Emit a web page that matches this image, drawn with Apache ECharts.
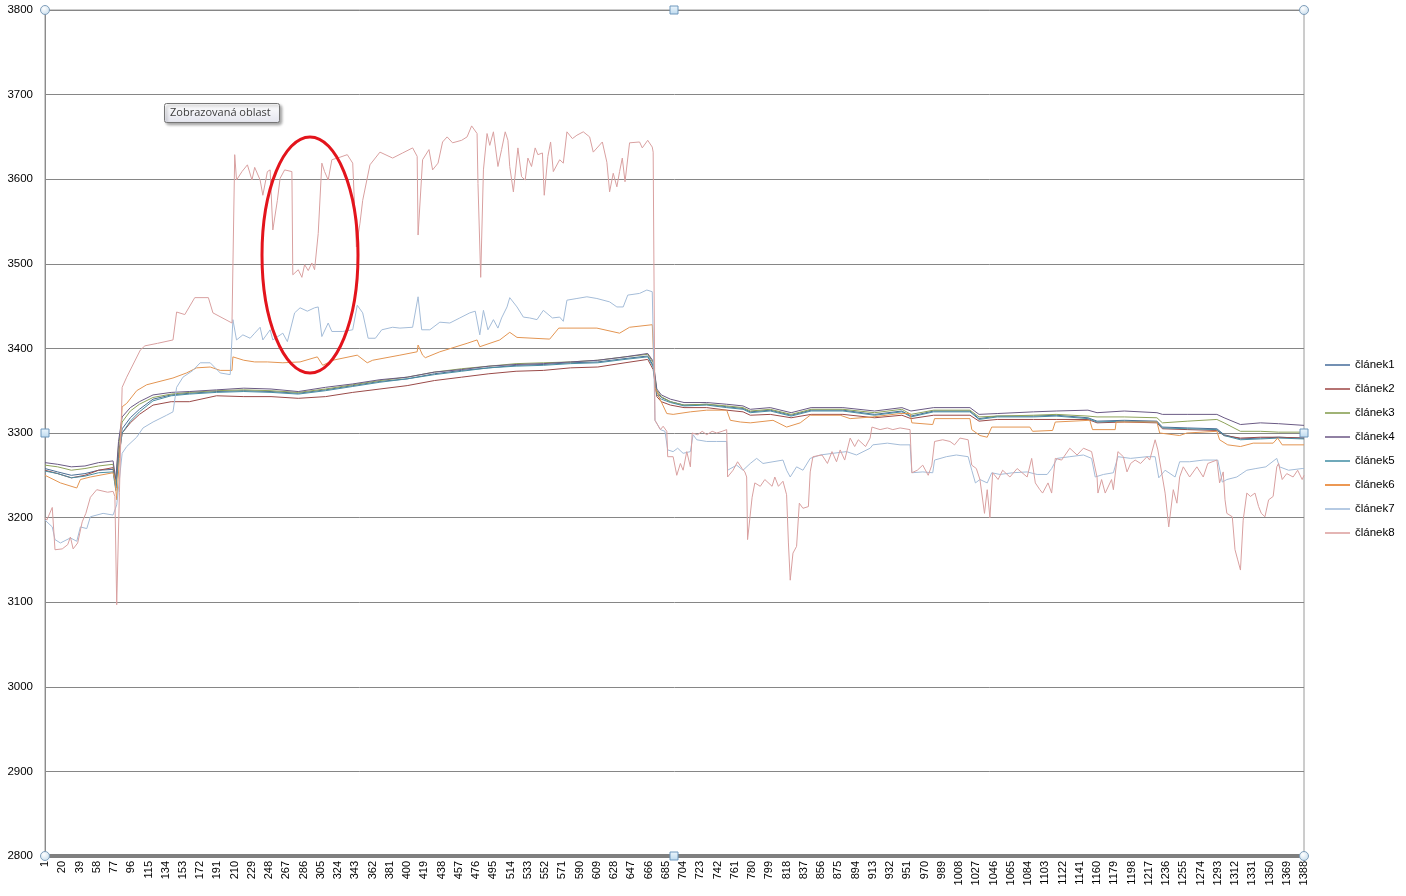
<!DOCTYPE html>
<html><head><meta charset="utf-8">
<script src="https://cdn.jsdelivr.net/npm/echarts@6/dist/echarts.min.js"></script>
<style>html,body{margin:0;padding:0;background:#fff}#c{width:1406px;height:896px}</style>
</head><body><div id="c"></div>
<script>
// sample numbers 1..1388 (category axis), tick labels every 19th
const sampleCount = 1388;
const yTicks = {min: 2800, max: 3800, step: 100};
const seriesNames = ['článek1','článek2','článek3','článek4','článek5','článek6','článek7','článek8'];

// shared sample positions for the tightly grouped cells 1-5
const clusterX = [1,15,30,45,60,76,79,82,86,95,105,120,140,160,190,220,250,280,310,340,370,400,430,460,490,520,550,580,610,640,665,671,675,680,690,705,730,752,770,778,800,823,845,880,915,945,955,980,1020,1030,1050,1090,1115,1150,1160,1190,1226,1232,1260,1292,1300,1318,1340,1360,1388];
const s1 = [3258,3254,3250,3252,3256,3257,3235,3275,3305,3318,3328,3340,3345,3347,3349,3350,3349,3347,3351,3356,3361,3364,3370,3374,3377,3380,3381,3383,3384,3388,3391,3380,3348,3342,3337,3333,3334,3331,3329,3325,3327,3321,3327,3327,3322,3326,3320,3326,3326,3317,3320,3320,3321,3318,3314,3315,3314,3307,3306,3305,3298,3293,3294,3295,3294];
const s2 = [3256,3252,3247,3250,3256,3259,3238,3270,3300,3312,3322,3333,3337,3337,3344,3343,3343,3341,3343,3348,3352,3356,3362,3366,3370,3373,3374,3377,3378,3383,3387,3375,3343,3337,3333,3330,3330,3327,3325,3321,3322,3318,3322,3322,3318,3321,3317,3321,3321,3314,3316,3316,3316,3316,3312,3313,3312,3305,3304,3303,3297,3294,3295,3295,3294];
const s3 = [3262,3260,3256,3258,3261,3263,3240,3285,3313,3326,3334,3342,3346,3348,3350,3351,3350,3348,3352,3357,3362,3366,3372,3376,3379,3382,3383,3384,3386,3390,3393,3383,3350,3343,3337,3333,3334,3332,3330,3326,3328,3322,3328,3328,3324,3328,3322,3327,3327,3319,3320,3321,3322,3320,3319,3319,3318,3312,3314,3316,3312,3302,3302,3301,3301];
const s4 = [3265,3263,3260,3261,3265,3267,3245,3290,3319,3330,3337,3345,3348,3349,3351,3353,3352,3349,3354,3358,3363,3366,3372,3375,3379,3381,3382,3384,3386,3390,3394,3385,3352,3345,3340,3336,3336,3334,3332,3328,3330,3324,3330,3330,3326,3330,3326,3330,3330,3322,3323,3325,3326,3327,3324,3326,3324,3322,3322,3322,3318,3310,3312,3311,3309];
const s5 = [3255,3252,3247,3249,3253,3254,3232,3268,3300,3314,3325,3338,3344,3346,3348,3349,3348,3346,3350,3355,3360,3364,3369,3373,3377,3379,3380,3382,3383,3387,3390,3378,3345,3340,3336,3332,3333,3330,3328,3324,3326,3320,3326,3326,3321,3325,3319,3325,3325,3316,3319,3319,3320,3317,3313,3314,3313,3306,3305,3304,3297,3292,3293,3294,3293];

// [sample number, value]
const s6 = [[1,3250],[3,3248],[18,3241],[36,3235],[40,3245],[51,3248],[76,3253],[78,3245],[80,3221],[83,3270],[86,3331],[91,3335],[102,3350],[113,3357],[142,3365],[157,3371],[168,3377],[183,3378],[194,3374],[207,3374],[208,3390],[220,3386],[232,3384],[246,3384],[263,3383],[282,3384],[301,3390],[307,3380],[318,3386],[345,3392],[356,3383],[362,3386],[392,3392],[411,3396],[412,3404],[417,3392],[420,3389],[436,3396],[466,3406],[477,3410],[480,3402],[502,3410],[513,3419],[521,3413],[557,3411],[567,3424],[576,3424],[609,3424],[634,3418],[645,3425],[670,3428],[671,3428],[673,3354],[679,3339],[686,3323],[693,3322],[712,3325],[730,3327],[752,3327],[756,3315],[767,3313],[778,3312],[803,3315],[818,3307],[833,3312],[844,3321],[877,3321],[888,3317],[913,3319],[943,3323],[954,3323],[956,3312],[979,3310],[981,3317],[1020,3317],[1022,3304],[1031,3297],[1039,3295],[1044,3307],[1086,3307],[1089,3302],[1111,3303],[1114,3313],[1152,3315],[1155,3304],[1180,3304],[1181,3313],[1226,3313],[1229,3300],[1251,3297],[1259,3300],[1292,3302],[1295,3292],[1304,3286],[1318,3284],[1332,3288],[1354,3288],[1359,3294],[1364,3286],[1388,3286]];

const s7 = [[1,3197],[3,3195],[9,3189],[12,3174],[18,3170],[29,3176],[36,3172],[40,3189],[47,3187],[51,3201],[65,3205],[76,3203],[80,3215],[86,3276],[91,3284],[102,3295],[109,3306],[120,3313],[135,3321],[142,3325],[146,3354],[153,3366],[164,3374],[172,3383],[183,3383],[194,3371],[205,3369],[208,3434],[212,3410],[219,3416],[227,3412],[232,3418],[238,3425],[241,3410],[249,3422],[252,3410],[263,3418],[268,3408],[276,3442],[282,3448],[290,3444],[298,3448],[302,3449],[306,3414],[313,3430],[317,3420],[329,3420],[340,3422],[345,3451],[351,3442],[357,3412],[365,3412],[372,3422],[384,3425],[392,3424],[406,3425],[412,3461],[416,3422],[425,3422],[436,3431],[447,3430],[458,3436],[469,3442],[475,3444],[480,3416],[484,3445],[489,3422],[495,3434],[500,3424],[504,3436],[510,3449],[513,3460],[521,3449],[528,3437],[535,3436],[543,3434],[550,3445],[560,3436],[568,3437],[572,3432],[576,3457],[587,3459],[598,3461],[609,3459],[623,3455],[631,3449],[638,3449],[643,3463],[656,3465],[664,3469],[670,3467],[671,3467],[673,3315],[679,3304],[684,3302],[687,3280],[693,3278],[698,3282],[704,3276],[712,3278],[715,3298],[719,3292],[730,3290],[741,3290],[752,3290],[753,3256],[763,3262],[770,3256],[778,3264],[785,3270],[792,3264],[803,3266],[814,3268],[818,3256],[822,3248],[829,3260],[836,3256],[844,3270],[855,3274],[869,3276],[884,3278],[895,3274],[910,3282],[913,3286],[929,3288],[943,3286],[954,3286],[956,3253],[968,3254],[979,3253],[981,3268],[994,3272],[1005,3274],[1018,3272],[1022,3256],[1026,3241],[1031,3245],[1039,3241],[1044,3253],[1053,3251],[1067,3253],[1083,3254],[1094,3251],[1105,3251],[1110,3258],[1116,3270],[1130,3272],[1145,3274],[1154,3270],[1158,3248],[1167,3251],[1178,3253],[1183,3272],[1197,3270],[1215,3272],[1224,3272],[1228,3247],[1235,3256],[1246,3248],[1251,3266],[1262,3266],[1277,3268],[1293,3268],[1298,3242],[1303,3245],[1314,3248],[1325,3256],[1335,3258],[1346,3260],[1358,3270],[1361,3260],[1371,3256],[1386,3258],[1388,3258]];

const s8 = [[1,3200],[3,3197],[9,3212],[12,3162],[20,3163],[26,3168],[29,3177],[32,3163],[37,3170],[42,3195],[46,3205],[51,3224],[58,3233],[70,3230],[76,3231],[78,3225],[80,3097],[83,3230],[86,3354],[91,3366],[106,3398],[111,3403],[125,3406],[142,3410],[146,3443],[155,3440],[166,3460],[181,3460],[186,3442],[207,3430],[210,3629],[212,3599],[218,3609],[224,3617],[229,3599],[232,3614],[238,3599],[241,3581],[246,3609],[249,3611],[252,3540],[257,3575],[260,3601],[265,3611],[273,3609],[274,3487],[280,3493],[284,3484],[287,3499],[291,3492],[295,3501],[298,3493],[302,3536],[306,3619],[309,3609],[313,3599],[317,3623],[326,3626],[334,3629],[340,3619],[344,3520],[348,3548],[351,3575],[359,3617],[370,3632],[384,3625],[395,3631],[406,3637],[411,3627],[412,3534],[417,3623],[424,3635],[428,3611],[434,3619],[439,3644],[444,3650],[450,3643],[460,3646],[466,3650],[471,3663],[477,3654],[478,3595],[481,3484],[484,3611],[488,3654],[491,3640],[495,3656],[500,3615],[504,3635],[508,3656],[511,3646],[513,3615],[517,3585],[522,3637],[526,3603],[530,3599],[533,3625],[537,3615],[541,3637],[544,3629],[549,3631],[551,3581],[555,3627],[558,3644],[561,3609],[568,3623],[572,3619],[576,3656],[582,3648],[587,3652],[594,3656],[601,3650],[605,3632],[615,3644],[620,3620],[623,3585],[627,3607],[631,3591],[634,3609],[637,3625],[640,3597],[645,3643],[656,3644],[659,3637],[665,3646],[670,3638],[671,3632],[673,3315],[675,3313],[679,3304],[682,3308],[686,3302],[687,3272],[693,3272],[697,3250],[701,3264],[704,3256],[708,3278],[712,3260],[714,3300],[720,3298],[725,3302],[730,3298],[736,3302],[741,3300],[747,3302],[752,3304],[753,3248],[759,3256],[764,3266],[769,3258],[772,3254],[774,3248],[775,3174],[780,3224],[783,3241],[789,3237],[794,3245],[802,3237],[805,3248],[809,3237],[814,3243],[818,3227],[820,3170],[822,3126],[825,3158],[829,3166],[832,3217],[836,3211],[842,3213],[844,3254],[847,3272],[857,3274],[863,3264],[868,3278],[873,3266],[877,3280],[882,3268],[888,3294],[893,3284],[897,3292],[905,3284],[910,3294],[912,3307],[921,3304],[929,3306],[935,3304],[943,3306],[954,3304],[956,3253],[962,3256],[968,3262],[974,3250],[978,3262],[981,3290],[990,3292],[998,3290],[1003,3286],[1009,3294],[1018,3292],[1022,3262],[1027,3258],[1031,3245],[1036,3205],[1039,3233],[1042,3200],[1045,3253],[1051,3245],[1056,3256],[1064,3248],[1072,3258],[1083,3248],[1088,3270],[1092,3241],[1097,3233],[1100,3229],[1106,3241],[1110,3229],[1114,3270],[1121,3268],[1130,3282],[1138,3274],[1145,3282],[1154,3278],[1160,3248],[1161,3229],[1165,3245],[1169,3229],[1176,3245],[1178,3233],[1183,3278],[1189,3272],[1193,3254],[1197,3264],[1202,3268],[1208,3264],[1215,3272],[1218,3268],[1224,3292],[1227,3280],[1232,3248],[1235,3229],[1239,3189],[1244,3233],[1248,3217],[1251,3248],[1255,3260],[1262,3248],[1270,3260],[1277,3248],[1282,3264],[1292,3268],[1295,3241],[1299,3254],[1301,3221],[1303,3205],[1309,3201],[1312,3162],[1315,3150],[1318,3138],[1321,3197],[1325,3229],[1329,3225],[1334,3229],[1338,3213],[1341,3205],[1345,3201],[1349,3221],[1354,3225],[1358,3260],[1360,3264],[1364,3245],[1369,3252],[1376,3248],[1381,3256],[1386,3245],[1388,3250]];

const colors = ['#376092','#953735','#77933C','#604A7B','#31859C','#E46C0A','#95B3D7','#D99694'];
const lineColors = ['#4a6d94','#9a4a48','#8ea35a','#6a5a84','#4a8ea2','#e39552','#a4bcd8','#d9a0a0'];

const categories = [];
for (let i = 1; i <= sampleCount; i++) categories.push(String(i));
const zipCluster = ys => clusterX.map((x, i) => [String(x), ys[i]]);
const pairs = arr => arr.map(p => [String(p[0]), p[1]]);
const allData = [zipCluster(s1), zipCluster(s2), zipCluster(s3), zipCluster(s4), zipCluster(s5), pairs(s6), pairs(s7), pairs(s8)];

const FONT = 'Liberation Sans';
const chart = echarts.init(document.getElementById('c'), null, {renderer: 'canvas'});

// plot-area handles (selection marks)
const L = 45, R = 1304, T = 10, B = 856, MX = 674, MY = 433;
const circ = (x, y) => ({type: 'circle', z: 120, shape: {cx: x, cy: y, r: 4.5},
  style: {fill: new echarts.graphic.RadialGradient(0.4, 0.35, 0.7, [{offset: 0, color: '#ffffff'}, {offset: 1, color: '#c6dcec'}]), stroke: '#7f9db9', lineWidth: 1}});
const sq = (x, y) => ({type: 'rect', z: 120, shape: {x: x - 4, y: y - 4, width: 8, height: 8},
  style: {fill: new echarts.graphic.LinearGradient(0, 0, 0, 1, [{offset: 0, color: '#eef7fd'}, {offset: 1, color: '#bcd9ee'}]), stroke: '#6f98bd', lineWidth: 1}});

chart.setOption({
  animation: false,
  color: colors,
  textStyle: {fontFamily: FONT},
  grid: {left: L, right: 1406 - R, top: T, bottom: 896 - B, show: true, borderColor: '#9a9a9a', borderWidth: 1},
  legend: {
    orient: 'vertical', left: 1320, top: 353, icon: 'rect', itemWidth: 25, itemHeight: 1.4,
    itemGap: 10, data: seriesNames,
    textStyle: {fontFamily: FONT, fontSize: 11.5, color: '#000', lineHeight: 14}
  },
  xAxis: {
    type: 'category', data: categories, boundaryGap: false,
    axisLine: {show: true, lineStyle: {color: '#7f7f7f', width: 4}},
    axisTick: {show: false},
    axisLabel: {interval: 18, rotate: 90, fontSize: 11, color: '#000', margin: 5, fontFamily: FONT},
    splitLine: {show: false}
  },
  yAxis: {
    type: 'value', min: yTicks.min, max: yTicks.max, interval: yTicks.step,
    axisLine: {show: true, lineStyle: {color: '#8c8c8c', width: 1}},
    axisTick: {show: false},
    axisLabel: {fontSize: 11.5, color: '#000', margin: 12, fontFamily: FONT, formatter: v => String(v)},
    splitLine: {show: true, lineStyle: {color: '#868686', width: 1}}
  },
  series: seriesNames.map((n, i) => ({
    name: n, type: 'line', data: allData[i], showSymbol: false, symbol: 'none',
    lineStyle: {width: 1, color: lineColors[i]}, itemStyle: {color: colors[i]},
    emphasis: {disabled: true}, z: 2 + i
  })),
  graphic: [
    circ(L, T), circ(R, T), circ(L, B), circ(R, B),
    sq(MX, T), sq(L, MY), sq(R, MY), sq(MX, B),
    {type: 'ellipse', z: 110, shape: {cx: 310, cy: 255, rx: 48, ry: 118},
     style: {fill: null, stroke: '#e3141c', lineWidth: 3}},
    {type: 'group', z: 130, children: [
      {type: 'rect', shape: {x: 164.5, y: 103.5, width: 115, height: 19, r: 2},
       style: {fill: new echarts.graphic.LinearGradient(0, 0, 0, 1, [{offset: 0, color: '#ffffff'}, {offset: 1, color: '#e4e5ee'}]),
               stroke: '#767676', lineWidth: 1, shadowBlur: 3, shadowOffsetX: 2, shadowOffsetY: 2, shadowColor: 'rgba(0,0,0,0.35)'}},
      {type: 'text', style: {x: 170, y: 113, text: 'Zobrazovaná oblast', fill: '#3c3c3c', font: '11px "Open Sans", sans-serif', textVerticalAlign: 'middle'}}
    ]}
  ]
});
</script></body></html>
